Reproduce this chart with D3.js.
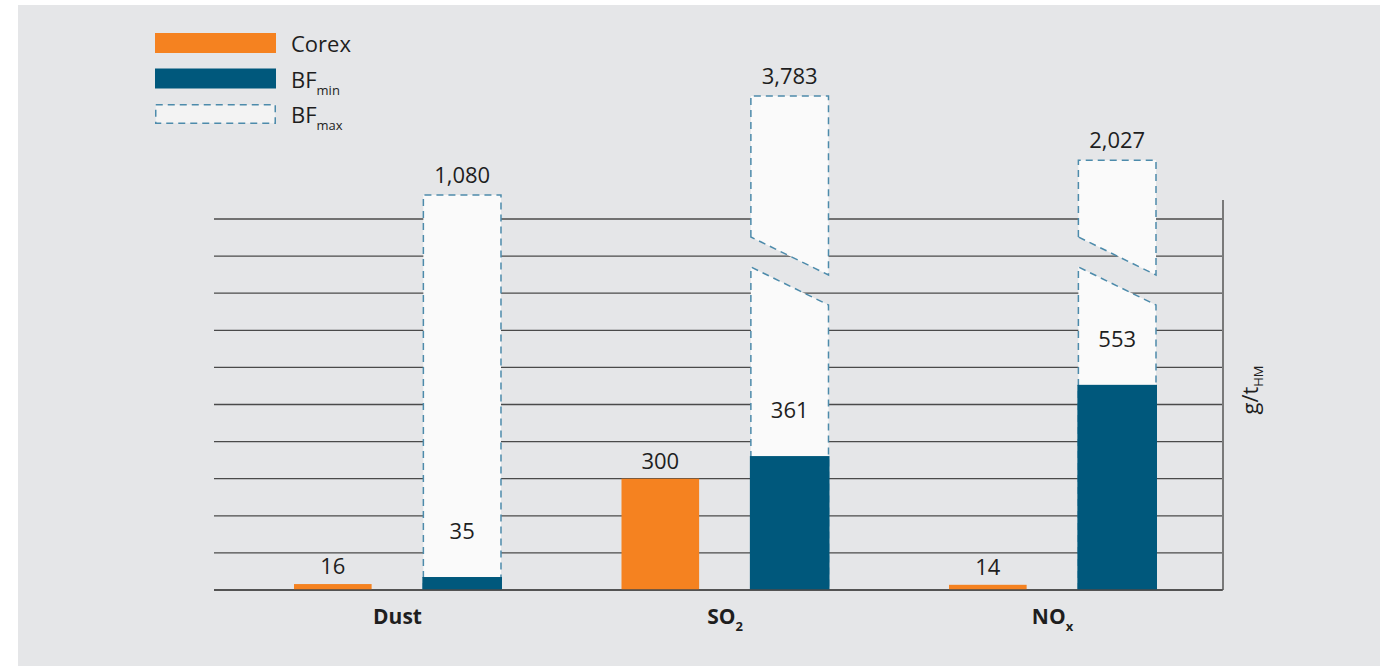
<!DOCTYPE html>
<html>
<head>
<meta charset="utf-8">
<script src="https://cdn.jsdelivr.net/npm/d3@7"></script>
<style>
  body { margin: 0; background: #fff; }
  text { font-family: "Open Sans", sans-serif; fill: #1e1e1e; }
</style>
</head>
<body>
<svg width="1380" height="666"></svg>
<script>
// data (g per t hot metal)
var categories = ["Dust", "SO", "NO"];
var categorySubs = ["", "2", "x"];
var corex = [16, 300, 14];
var bfMin = [35, 361, 553];
var bfMax = [1080, 3783, 2027];
var gridTicks = d3.range(0, 1001, 100);
var breakAbove = 1500; // bars taller than this get drawn with a break

var colors = { corex: "#f58220", bfMin: "#00587c", bfMax: "#4d8bab" };

var svg = d3.select("svg"),
    width = +svg.attr("width"),
    height = +svg.attr("height");

// grey panel
svg.append("rect")
    .attr("x", 18).attr("y", 5)
    .attr("width", width - 18).attr("height", height - 5)
    .attr("fill", "#e5e6e8");

var plot = { left: 214, right: 1222, bottom: 590, top: 219 };

var y = d3.scaleLinear().domain([0, 1000]).range([plot.bottom, plot.top]);
// compressed scale for the part above the grid
var yUp = d3.scaleLinear().domain([1000, 4000]).range([198, 88]);
function yVal(v) { return v <= 1000 ? y(v) : yUp(v); }

var x0 = d3.scaleBand().domain(categories).range([294, 1156]).paddingInner(0.368);
var x1 = d3.scaleBand().domain(["corex", "bf"]).range([0, x0.bandwidth()]).paddingInner(0.4);

// gridlines
svg.append("g")
    .selectAll("line")
    .data(gridTicks)
    .enter().append("line")
    .attr("x1", plot.left).attr("x2", plot.right)
    .attr("y1", function (d) { return y(d); })
    .attr("y2", function (d) { return y(d); })
    .attr("stroke", "#4a4a4a")
    .attr("stroke-width", 1.3);

// right axis line
svg.append("line")
    .attr("x1", plot.right + 1).attr("x2", plot.right + 1)
    .attr("y1", 200).attr("y2", plot.bottom)
    .attr("stroke", "#555").attr("stroke-width", 1.5);

// break geometry
var breakMid = 271, breakGap = 30, breakDrop = 38;

var groups = svg.append("g").selectAll("g")
    .data(categories)
    .enter().append("g")
    .attr("transform", function (d) { return "translate(" + x0(d) + ",0)"; });

// BF max (dashed, light)
groups.each(function (d, i) {
    var g = d3.select(this);
    var xl = x1("bf"), xr = x1("bf") + x1.bandwidth();
    var top = yVal(bfMax[i]);
    var style = function (sel) {
        sel.attr("fill", "#fafafa")
            .attr("stroke", colors.bfMax)
            .attr("stroke-width", 1.5)
            .attr("stroke-dasharray", "7,5");
    };
    if (bfMax[i] > breakAbove) {
        var ubl = breakMid - breakGap / 2 - breakDrop / 2,
            ubr = breakMid - breakGap / 2 + breakDrop / 2,
            ltl = breakMid + breakGap / 2 - breakDrop / 2,
            ltr = breakMid + breakGap / 2 + breakDrop / 2;
        g.append("path")
            .attr("d", "M" + xl + "," + ubl + "L" + xl + "," + top + "L" + xr + "," + top + "L" + xr + "," + ubr + "Z")
            .call(style);
        g.append("path")
            .attr("d", "M" + xl + "," + plot.bottom + "L" + xl + "," + ltl + "L" + xr + "," + ltr + "L" + xr + "," + plot.bottom)
            .call(style);
    } else {
        g.append("path")
            .attr("d", "M" + xl + "," + plot.bottom + "L" + xl + "," + top + "L" + xr + "," + top + "L" + xr + "," + plot.bottom)
            .call(style);
    }
    g.append("text")
        .attr("x", (xl + xr) / 2)
        .attr("y", top - 12)
        .attr("text-anchor", "middle")
        .style("font-size", "22px")
        .text(d3.format(",")(bfMax[i]));
});

// Corex bars
groups.append("rect")
    .attr("x", x1("corex"))
    .attr("width", x1.bandwidth())
    .attr("y", function (d, i) { return y(corex[i]); })
    .attr("height", function (d, i) { return plot.bottom - y(corex[i]); })
    .attr("fill", colors.corex);

groups.append("text")
    .attr("x", x1("corex") + x1.bandwidth() / 2)
    .attr("y", function (d, i) { return y(corex[i]) - 10; })
    .attr("text-anchor", "middle")
    .style("font-size", "22px")
    .text(function (d, i) { return corex[i]; });

// BF min bars (slightly wider so they hide the dashed border)
groups.append("rect")
    .attr("x", x1("bf") - 1)
    .attr("width", x1.bandwidth() + 2)
    .attr("y", function (d, i) { return y(bfMin[i]); })
    .attr("height", function (d, i) { return plot.bottom - y(bfMin[i]); })
    .attr("fill", colors.bfMin);

groups.append("text")
    .attr("x", x1("bf") + x1.bandwidth() / 2)
    .attr("y", function (d, i) { return y(bfMin[i]) - 38; })
    .attr("text-anchor", "middle")
    .style("font-size", "22px")
    .text(function (d, i) { return bfMin[i]; });

// baseline on top
svg.append("line")
    .attr("x1", plot.left).attr("x2", plot.right + 1)
    .attr("y1", plot.bottom).attr("y2", plot.bottom)
    .attr("stroke", "#4a4a4a").attr("stroke-width", 1.3);

// category labels
var cat = groups.append("text")
    .attr("x", x0.bandwidth() / 2)
    .attr("y", 624)
    .attr("text-anchor", "middle")
    .style("font-size", "21px")
    .style("font-weight", "bold");
cat.append("tspan").text(function (d) { return d; });
cat.append("tspan")
    .attr("dy", 7)
    .style("font-size", "13px")
    .text(function (d, i) { return categorySubs[i]; });

// axis title
var yt = svg.append("text")
    .attr("transform", "translate(1258,390) rotate(-90)")
    .attr("text-anchor", "middle")
    .style("font-size", "22px");
yt.append("tspan").text("g/t");
yt.append("tspan").attr("dy", 5).style("font-size", "13px").text("HM");

// legend
var legendItems = [
    { label: "Corex", sub: "", fill: colors.corex, dashed: false },
    { label: "BF", sub: "min", fill: colors.bfMin, dashed: false },
    { label: "BF", sub: "max", fill: "#f3f3f3", dashed: true }
];
var legend = svg.append("g").selectAll("g")
    .data(legendItems)
    .enter().append("g")
    .attr("transform", function (d, i) { return "translate(155," + (33 + i * 35.5) + ")"; });
legend.append("rect")
    .attr("x", function (d) { return d.dashed ? 0.75 : 0; })
    .attr("y", function (d) { return d.dashed ? 0.75 : 0; })
    .attr("width", function (d) { return d.dashed ? 119.5 : 121; })
    .attr("height", function (d) { return d.dashed ? 18.5 : 20; })
    .attr("fill", function (d) { return d.fill; })
    .attr("stroke", function (d) { return d.dashed ? colors.bfMax : "none"; })
    .attr("stroke-width", 1.5)
    .attr("stroke-dasharray", "7,5");
var lt = legend.append("text")
    .attr("x", 136)
    .attr("y", 19)
    .style("font-size", "22px");
lt.append("tspan").text(function (d) { return d.label; });
lt.append("tspan").attr("dy", 7).style("font-size", "13px").text(function (d) { return d.sub; });
</script>
</body>
</html>
